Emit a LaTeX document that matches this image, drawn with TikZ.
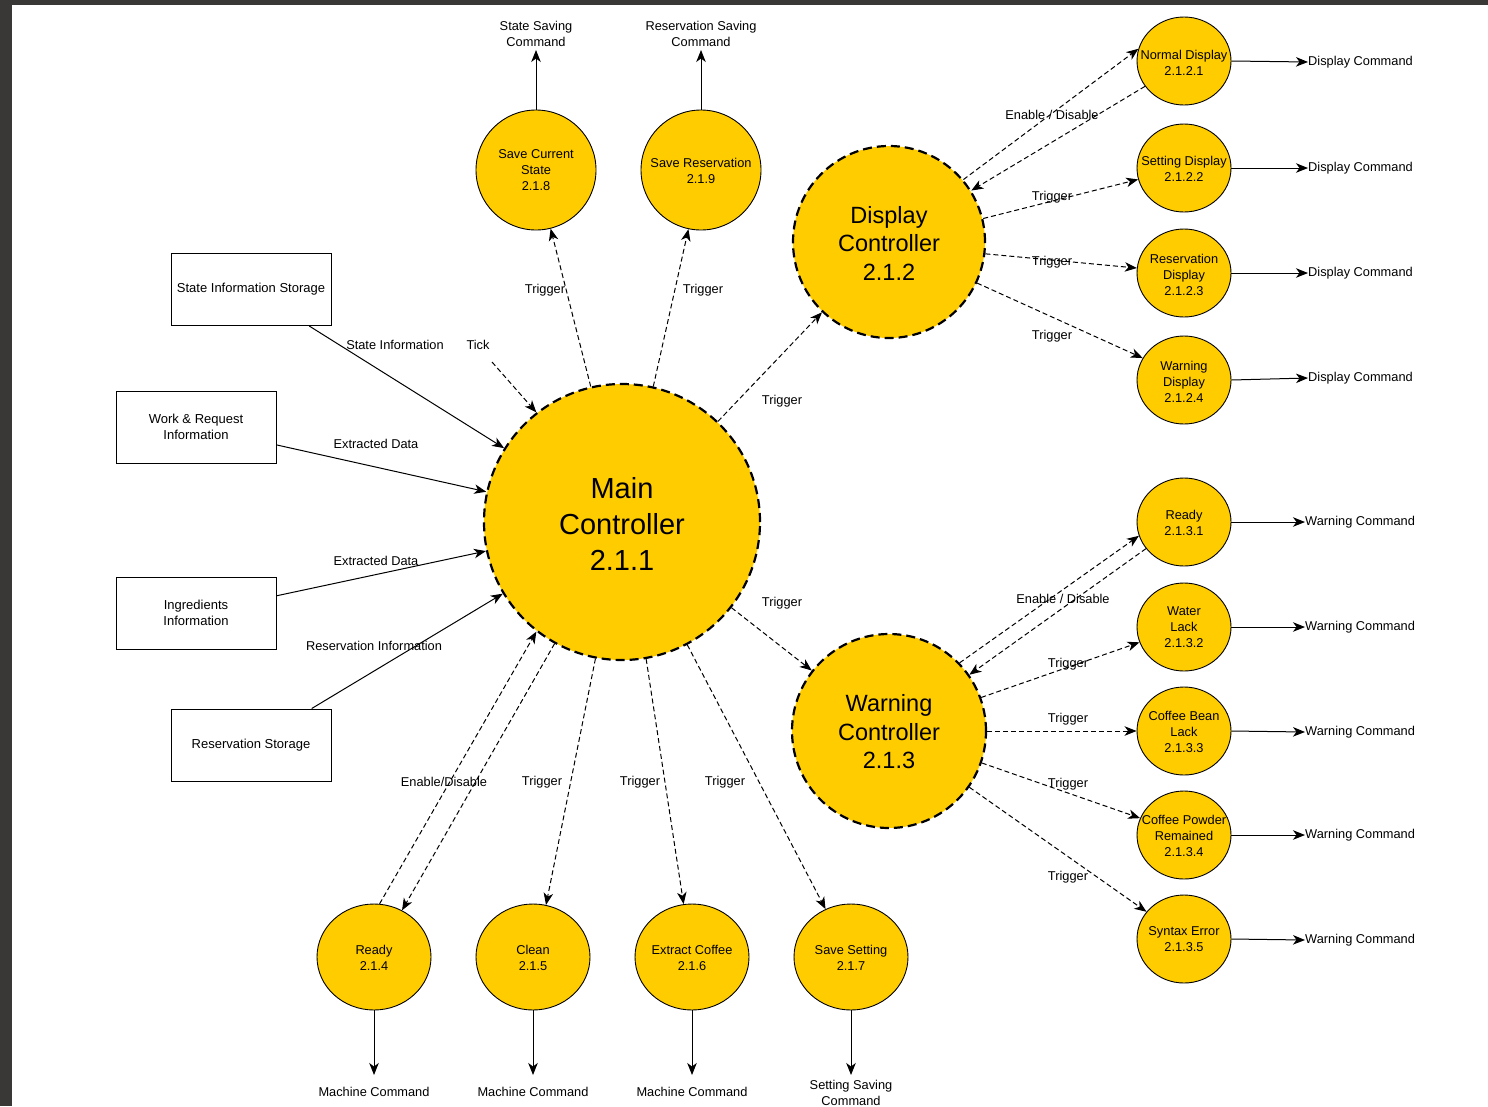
\documentclass[tikz,border=0pt]{standalone}
\usepackage{fontspec}
\setmainfont{Liberation Sans}
\usetikzlibrary{shapes.geometric,arrows.meta}
\definecolor{yel}{HTML}{FFCC00}
\definecolor{framec}{HTML}{3A3836}
\begin{document}
\begin{tikzpicture}[x=1pt,y=-1pt,
  ctrl/.style={circle, draw, fill=yel, line width=2.2pt, dash pattern=on 9pt off 5pt, inner sep=0pt, align=center},
  ctxt/.style={inner sep=0pt, align=center},
  proc/.style={ellipse, draw, fill=yel, line width=0.9pt, inner sep=0pt},
  ptxt/.style={inner sep=0pt, align=center, font=\fontsize{12.8}{16}\selectfont},
  store/.style={rectangle, draw, line width=1pt, minimum width=160pt, minimum height=72pt, inner sep=0pt, align=center, font=\fontsize{13}{16.5}\selectfont},
  txt/.style={inner sep=0pt, align=center, font=\fontsize{12.8}{16}\selectfont},
  flow/.style={-{Stealth[length=12pt,width=9.5pt,inset=3.5pt]}, line width=1pt},
  dflow/.style={flow, dash pattern=on 5pt off 3pt}]
\useasboundingbox (0,0) rectangle (1488,1106);
\fill[framec] (0,0) rectangle (1488,1106);
\fill[white] (12,5) rectangle (1488,1106);

% controllers
\node[ctrl, minimum size=276pt] (main) at (622,522) {};
\node[ctrl, minimum size=192pt] (dc) at (889,242) {};
\node[ctrl, minimum size=194pt] (wc) at (889,731) {};
\node[ctxt, font=\fontsize{29}{36}\selectfont] (maint) at (622,524) {Main\\Controller\\2.1.1};
\node[ctxt, font=\fontsize{23.5}{28.5}\selectfont] (dct) at (889,243) {Display\\Controller\\2.1.2};
\node[ctxt, font=\fontsize{23.5}{28.5}\selectfont] (wct) at (889,732) {Warning\\Controller\\2.1.3};

% top processes
\node[proc, minimum width=120pt, minimum height=120pt] (p8) at (536,170) {};
\node[proc, minimum width=120pt, minimum height=120pt] (p9) at (701,170) {};
\node[ptxt] (p8t) at (p8) {Save Current\\State\\2.1.8};
\node[ptxt] (p9t) at (701,171) {Save Reservation\\2.1.9};

% bottom processes
\node[proc, minimum width=114pt, minimum height=106pt] (p4) at (374,957) {};
\node[proc, minimum width=114pt, minimum height=106pt] (p5) at (533,957) {};
\node[proc, minimum width=114pt, minimum height=106pt] (p6) at (692,957) {};
\node[proc, minimum width=114pt, minimum height=106pt] (p7) at (851,957) {};
\node[ptxt] (p4t) at (374,958) {Ready\\2.1.4};
\node[ptxt] (p5t) at (533,958) {Clean\\2.1.5};
\node[ptxt] (p6t) at (692,958) {Extract Coffee\\2.1.6};
\node[ptxt] (p7t) at (851,958) {Save Setting\\2.1.7};

% display sub-processes
\node[proc, minimum width=94pt, minimum height=88pt] (d1) at (1184,61) {};
\node[proc, minimum width=94pt, minimum height=88pt] (d2) at (1184,168) {};
\node[proc, minimum width=94pt, minimum height=88pt] (d3) at (1184,273) {};
\node[proc, minimum width=94pt, minimum height=88pt] (d4) at (1184,380) {};
\node[ptxt] (d1t) at (1184,62.5) {Normal Display\\2.1.2.1};
\node[ptxt] (d2t) at (1184,169) {Setting Display\\2.1.2.2};
\node[ptxt] (d3t) at (1184,274.5) {Reservation\\Display\\2.1.2.3};
\node[ptxt] (d4t) at (1184,381.5) {Warning\\Display\\2.1.2.4};

% warning sub-processes
\node[proc, minimum width=94pt, minimum height=88pt] (w1) at (1184,522) {};
\node[proc, minimum width=94pt, minimum height=88pt] (w2) at (1184,627) {};
\node[proc, minimum width=94pt, minimum height=88pt] (w3) at (1184,731) {};
\node[proc, minimum width=94pt, minimum height=88pt] (w4) at (1184,835) {};
\node[proc, minimum width=94pt, minimum height=88pt] (w5) at (1184,939) {};
\node[ptxt] (w1t) at (1184,523) {Ready\\2.1.3.1};
\node[ptxt] (w2t) at (1184,627.5) {Water\\Lack\\2.1.3.2};
\node[ptxt] (w3t) at (1184,731.5) {Coffee Bean\\Lack\\2.1.3.3};
\node[ptxt] (w4t) at (1184,835.5) {Coffee Powder\\Remained\\2.1.3.4};
\node[ptxt] (w5t) at (1184,939.5) {Syntax Error\\2.1.3.5};

% stores
\node[store] (sis) at (251,289.5) {State Information Storage};
\node[store] (wri) at (196,427) {Work \& Request\\Information};
\node[store] (ing) at (196,613) {Ingredients\\Information};
\node[store] (rs) at (251,745) {Reservation Storage};

% store flows
\draw[flow] (sis) -- (main);
\draw[flow] (wri) -- (main);
\draw[flow] (ing) -- (main);
\draw[flow] (rs) -- (main);
\coordinate (tick) at (492,362);
\draw[dflow] (tick) -- (main.128);

% main -> top
\draw[dflow] (main.103) -- (p8.-76);
\draw[dflow] (main.77.6) -- (p9.-102);
\coordinate (o8) at (536,50);
\coordinate (o9) at (701,50);
\draw[flow] (p8.north) -- (o8);
\draw[flow] (p9.north) -- (o9);

% main -> controllers
\draw[dflow] (main) -- (dc);
\draw[dflow] (main) -- (wc);

% main -> bottom
\draw[dflow] (p4.84) -- (main.-128.3);
\draw[dflow] (main.-119.6) -- (p4.59.4);
\draw[dflow] (main.-101) -- (p5.76);
\draw[dflow] (main.-80.5) -- (p6.99);
\draw[dflow] (main.-62.4) -- (p7.118.8);
\foreach \n/\x in {p4/374,p5/533,p6/692,p7/851}{
  \coordinate (\n o) at (\x,1075);
  \draw[flow] (\n.south) -- (\n o);
}

% display controller
\draw[dflow] (dc.40.9) -- (d1.165.7);
\draw[dflow] (d1.213.7) -- (dc.32);
\draw[dflow] (dc.14.3) -- (d2.194.3);
\draw[dflow] (dc.-7) -- (d3.174);
\draw[dflow] (dc.-25.8) -- (d4.152.9);

% warning controller
\draw[dflow] (wc.44.2) -- (w1.197);
\draw[dflow] (w1.215) -- (wc.35.8);
\draw[dflow] (wc.20.5) -- (w2.199);
\draw[dflow] (wc.east) -- (w3.west);
\draw[dflow] (wc.-19.9) -- (w4.159);
\draw[dflow] (wc.-35.1) -- (w5.144);

% output texts right
\node[txt, anchor=west] (td1) at (1308,62) {Display Command};
\node[txt, anchor=west] (td2) at (1308,168) {Display Command};
\node[txt, anchor=west] (td3) at (1308,273) {Display Command};
\node[txt, anchor=west] (td4) at (1308,378) {Display Command};
\foreach \i in {1,2,3,4}{ \draw[flow] (d\i.east) -- (td\i.west); }
\node[txt, anchor=west] (tw1) at (1305,522) {Warning Command};
\node[txt, anchor=west] (tw2) at (1305,627) {Warning Command};
\node[txt, anchor=west] (tw3) at (1305,732) {Warning Command};
\node[txt, anchor=west] (tw4) at (1305,835) {Warning Command};
\node[txt, anchor=west] (tw5) at (1305,940) {Warning Command};
\foreach \i in {1,2,3,4,5}{ \draw[flow] (w\i.east) -- (tw\i.west); }

% output texts top and bottom
\node[txt] (t8) at (536,34) {State Saving\\Command};
\node[txt] (t9) at (701,34) {Reservation Saving\\Command};
\node[txt] (t4) at (374,1092) {Machine Command};
\node[txt] (t5) at (533,1092) {Machine Command};
\node[txt] (t6) at (692,1092) {Machine Command};
\node[txt] (t7) at (851,1093) {Setting Saving\\Command};

% labels
\node[txt] (l1) at (395,345) {State Information};
\node[txt] (l2) at (478,345) {Tick};
\node[txt] (l3) at (376,444) {Extracted Data};
\node[txt] (l4) at (376,561) {Extracted Data};
\node[txt] (l5) at (374,646) {Reservation Information};
\node[txt] (l6) at (545,290) {Trigger};
\node[txt] (l7) at (703,290) {Trigger};
\node[txt] (l8) at (782,401) {Trigger};
\node[txt] (l9) at (782,603) {Trigger};
\node[txt] (l10) at (444,782) {Enable/Disable};
\node[txt] (l11) at (542,782) {Trigger};
\node[txt] (l12) at (640,782) {Trigger};
\node[txt] (l13) at (725,782) {Trigger};
\node[txt] (l14) at (1052,115) {Enable / Disable};
\node[txt] (l15) at (1052,197) {Trigger};
\node[txt] (l16) at (1052,262) {Trigger};
\node[txt] (l17) at (1052,336) {Trigger};
\node[txt] (l18) at (1063,599) {Enable / Disable};
\node[txt] (l19) at (1068,664) {Trigger};
\node[txt] (l20) at (1068,719) {Trigger};
\node[txt] (l21) at (1068,784) {Trigger};
\node[txt] (l22) at (1068,877) {Trigger};
\end{tikzpicture}
\end{document}
